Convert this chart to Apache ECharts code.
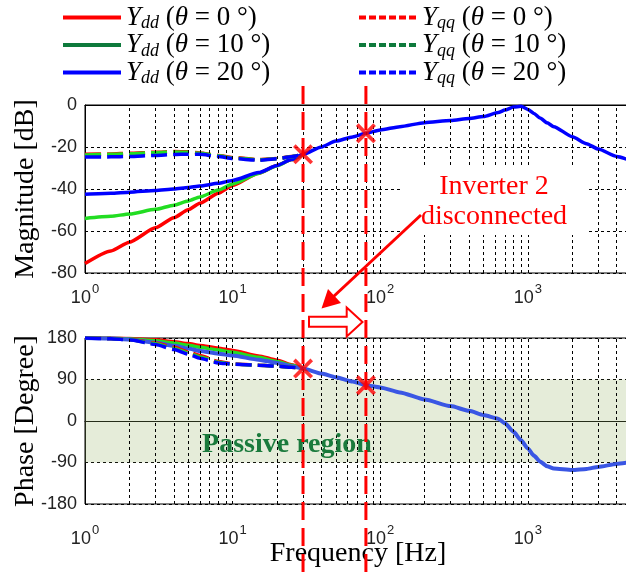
<!DOCTYPE html>
<html>
<head>
<meta charset="utf-8">
<script src="https://cdn.jsdelivr.net/npm/echarts@6/dist/echarts.min.js"></script>
<style>
  html, body { margin: 0; padding: 0; background: #fff; }
  #chart { width: 626px; height: 573px; }
</style>
</head>
<body>
<div id="chart"></div>
<script>
// ---- data -------------------------------------------------------------
// low-frequency sweep where the six admittances differ (Hz)
const lowFreq = [1, 1.5, 2, 3, 4, 5, 6, 8, 10, 15, 20, 25, 30];

// magnitude [dB]
const magYdd0  = [-75.5, -69.5, -65.3, -58.5, -53.7, -49.9, -46.8, -42.0, -38.3, -32.5, -28.8, -26.0, -23.5];
const magYdd10 = [-54.0, -53.0, -51.9, -49.7, -47.7, -45.7, -43.8, -40.5, -37.6, -32.6, -28.9, -26.0, -23.5];
const magYdd20 = [-42.5, -42.0, -41.5, -40.7, -40.0, -39.3, -38.6, -37.3, -35.9, -32.2, -28.8, -26.0, -23.5];
const magYqq0  = [-23.5, -23.3, -23.0, -22.5, -22.2, -22.3, -22.8, -24.0, -25.0, -26.0, -25.5, -24.5, -23.5];
const magYqq10 = [-23.8, -23.5, -23.2, -22.7, -22.4, -22.5, -23.0, -24.2, -25.2, -26.1, -25.6, -24.6, -23.5];
const magYqq20 = [-24.8, -24.7, -24.5, -24.0, -23.6, -23.4, -23.5, -24.5, -25.5, -26.3, -25.6, -24.6, -23.5];

// phase [degree]
const phYdd0  = [180, 180.0, 179.0, 176.0, 172.0, 168.0, 164.0, 158.0, 153.0, 141.0, 132.0, 122.0, 113.7];
const phYdd10 = [180, 179.5, 178.0, 174.0, 169.0, 164.5, 160.0, 154.0, 149.0, 138.0, 129.0, 121.0, 113.7];
const phYdd20 = [180, 179.0, 177.0, 170.0, 163.0, 157.0, 152.0, 146.0, 142.0, 133.0, 126.0, 119.0, 113.7];
const phYqq0  = [180, 179.0, 177.0, 169.0, 160.0, 150.0, 142.0, 129.0, 124.0, 121.0, 119.0, 116.5, 113.7];
const phYqq10 = [180, 179.0, 176.5, 167.5, 157.5, 147.5, 139.0, 127.5, 123.5, 121.0, 119.0, 116.5, 113.7];
const phYqq20 = [180, 178.5, 176.0, 166.0, 155.0, 145.0, 136.0, 126.0, 123.0, 121.0, 119.0, 116.5, 113.7];

// common high-frequency response (all curves coincide above 30 Hz)
const highFreq  = [40, 50, 65, 80, 100, 136, 200, 300, 400, 500, 630, 700, 800, 900, 1000, 1100, 1210, 1350, 1500, 2000, 2500, 3000, 4000, 5000];
const highMag   = [-20.0, -17.2, -15.2, -13.5, -11.9, -10.3, -8.4, -7.4, -6.4, -5.5, -3.6, -2.4, -1.0, -0.6, -2.1, -4.0, -6.2, -8.5, -10.3, -15.1, -18.4, -21.0, -24.5, -26.6];
const highPhase = [103.0, 95.0, 85.5, 77.7, 72.7, 62.0, 46.7, 32.3, 22.0, 12.8, 5.0, -5.0, -23.5, -42.0, -59.5, -75.0, -88.0, -98.0, -103.0, -106.5, -104.0, -99.5, -93.0, -89.0];

// switching instants marked on the curves
const markFreq  = [30, 80];
const markMag   = [-23.5, -13.5];
const markPhase = [113.7, 77.7];

// axis ticks
const magTicks   = { min: -80, max: 0, step: 20 };
const phaseTicks = { min: -180, max: 180, step: 90 };
const freqRange  = { min: 1, max: 5000 };

// ---- helpers ----------------------------------------------------------
const pairs = (xs, ys) => xs.map((x, i) => [x, ys[i]]);

// dashed vertical grid at 1..9 x 10^n
const gridFreqs = [];
for (let d = 1; d <= 1000; d *= 10) {
  for (let k = 1; k <= 9; k++) {
    const f = k * d;
    if (f > freqRange.min && f < freqRange.max) gridFreqs.push(f);
  }
}

const RED = '#ff0000', GREEN = '#22dd22', BLUE = '#0000ff';
const curves = [
  { name: 'Y_dd (θ = 0°)',  color: RED,   dash: false, mag: magYdd0,  ph: phYdd0 },
  { name: 'Y_dd (θ = 10°)', color: GREEN, dash: false, mag: magYdd10, ph: phYdd10 },
  { name: 'Y_dd (θ = 20°)', color: BLUE,  dash: false, mag: magYdd20, ph: phYdd20, full: true },
  { name: 'Y_qq (θ = 0°)',  color: RED,   dash: true,  mag: magYqq0,  ph: phYqq0 },
  { name: 'Y_qq (θ = 10°)', color: GREEN, dash: true,  mag: magYqq10, ph: phYqq10 },
  { name: 'Y_qq (θ = 20°)', color: BLUE,  dash: true,  mag: magYqq20, ph: phYqq20 }
];

const SERIF = '"Liberation Serif", "Times New Roman", serif';
const SANS  = '"Liberation Sans", Arial, sans-serif';

const crossPath = 'path://M0,2.6 L2.6,0 L10,7.4 L17.4,0 L20,2.6 L12.6,10 L20,17.4 L17.4,20 L10,12.6 L2.6,20 L0,17.4 L7.4,10 Z';

const gridLineStyle = { type: [3, 3], color: '#000', width: 1 };

function freqAxis(gridIndex, margin) {
  return {
    type: 'log', logBase: 10, gridIndex,
    min: freqRange.min, max: freqRange.max,
    axisLine: { show: true, lineStyle: { color: '#000', width: 1 } },
    axisTick: { show: false },
    splitLine: { show: false },
    axisLabel: {
      margin, showMaxLabel: false,
      formatter: v => '{b|10}{s|' + Math.round(Math.log10(v)) + '}',
      rich: {
        b: { fontFamily: SANS, fontSize: 18, color: '#222' },
        s: { fontFamily: SANS, fontSize: 13, color: '#222', padding: [0, 0, 17, 1] }
      }
    }
  };
}

function valueAxis(gridIndex, ticks, name) {
  return {
    type: 'value', gridIndex,
    min: ticks.min, max: ticks.max, interval: ticks.step,
    axisLine: { show: true, lineStyle: { color: '#000', width: 1 } },
    axisTick: { show: false },
    splitLine: { show: true, lineStyle: gridLineStyle },
    axisLabel: { fontFamily: SANS, fontSize: 18, color: '#222', margin: 8 },
    name, nameLocation: 'middle', nameRotate: 90, nameGap: 45, nameMoveOverlap: false,
    nameTextStyle: { fontFamily: SERIF, fontSize: 28, color: '#000' }
  };
}

const series = [];

// background helpers: vertical grid and the passive band
[0, 1].forEach(g => {
  series.push({
    type: 'line', xAxisIndex: g, yAxisIndex: g, data: [], z: 1, silent: true,
    markLine: {
      silent: true, symbol: ['none', 'none'], label: { show: false },
      lineStyle: gridLineStyle,
      data: gridFreqs.map(f => ({ xAxis: f }))
    },
    markArea: g === 1 ? {
      silent: true,
      itemStyle: { color: 'rgba(151,179,103,0.25)' },
      data: [[{ yAxis: -90 }, { yAxis: 90 }]]
    } : undefined
  });
});

curves.forEach(c => {
  const fx = c.full ? lowFreq.concat(highFreq) : lowFreq;
  const my = c.full ? c.mag.concat(highMag) : c.mag;
  const py = c.full ? c.ph.concat(highPhase) : c.ph;
  const style = { color: c.color, width: 3.5, type: c.dash ? [16, 6] : 'solid' };
  series.push({
    name: c.name, type: 'line', xAxisIndex: 0, yAxisIndex: 0,
    data: pairs(fx, my), symbol: 'none', smooth: 0.2, smoothMonotone: 'x',
    lineStyle: style, itemStyle: { color: c.color }, z: 3
  });
  series.push({
    name: c.name, type: 'line', xAxisIndex: 1, yAxisIndex: 1,
    data: pairs(fx, py), symbol: 'none', smooth: 0.2, smoothMonotone: 'x',
    lineStyle: Object.assign({}, style, c.full ? { color: '#3a56e4', width: 4 } : {}),
    itemStyle: { color: c.color }, z: 3
  });
});

// switching marks
series.push({
  type: 'scatter', xAxisIndex: 0, yAxisIndex: 0, data: pairs(markFreq, markMag),
  symbol: crossPath, symbolSize: 20, itemStyle: { color: RED }, z: 6, silent: true
});
series.push({
  type: 'scatter', xAxisIndex: 1, yAxisIndex: 1, data: pairs(markFreq, markPhase),
  symbol: crossPath, symbolSize: 20, itemStyle: { color: RED }, z: 6, silent: true
});

// legend label: italic Y with subscript, θ in italic
function legendText(name) {
  const m = name.match(/^Y_(\w+) \(θ = (\d+)°\)$/);
  return '{it|Y}{sub|' + m[1] + '}{rm| (}{it|θ}{rm| = ' + m[2] + ' °)}';
}
const legendRich = {
  it:  { fontFamily: SERIF, fontSize: 27, fontStyle: 'italic', color: '#000', lineHeight: 27 },
  rm:  { fontFamily: SERIF, fontSize: 27, color: '#000', lineHeight: 27 },
  sub: { fontFamily: SERIF, fontSize: 18, fontStyle: 'italic', color: '#000', verticalAlign: 'bottom', lineHeight: 30 }
};
const legendGreen = '#0e7a3c';
function legendItems(names, dashed) {
  return names.map(n => {
    const c = curves.find(cc => cc.name === n);
    const col = c.color === GREEN ? legendGreen : c.color;
    return {
      name: n,
      lineStyle: { color: col, width: 4, type: dashed ? [7, 3] : 'solid' },
      itemStyle: { color: col, opacity: 0 }
    };
  });
}
function legendBlock(left, names, dashed) {
  return {
    orient: 'vertical', left, top: -1, itemWidth: 58, itemHeight: 1, itemGap: -1,
    data: legendItems(names, dashed),
    formatter: legendText, textStyle: { rich: legendRich }, selectedMode: false
  };
}

const option = {
  animation: false,
  backgroundColor: '#fff',
  grid: [
    { left: 85, top: 105, right: -5, height: 168, show: true, borderColor: '#000', borderWidth: 1, outerBoundsMode: 'none' },
    { left: 85, top: 338, right: -5, height: 166, show: true, borderColor: '#000', borderWidth: 1, outerBoundsMode: 'none' }
  ],
  xAxis: [
    freqAxis(0, 10),
    Object.assign(freqAxis(1, 20), {
      name: 'Frequency [Hz]', nameLocation: 'middle', nameGap: 36, nameMoveOverlap: false,
      nameTextStyle: { fontFamily: SERIF, fontSize: 28, color: '#000' }
    })
  ],
  yAxis: [
    valueAxis(0, magTicks, 'Magnitude [dB]'),
    valueAxis(1, phaseTicks, 'Phase [Degree]')
  ],
  legend: [
    legendBlock(56, curves.slice(0, 3).map(c => c.name), false),
    legendBlock(352, curves.slice(3).map(c => c.name), true)
  ],
  series
};

const chart = echarts.init(document.getElementById('chart'));
chart.setOption(option);

// annotations: switching-instant guides, the event note and the passive label
const guideX = markFreq.map(f => chart.convertToPixel({ xAxisIndex: 0 }, f));
const graphics = guideX.map(x => ({
  type: 'line', z: 20, silent: true,
  shape: { x1: x, y1: 86, x2: x, y2: 573 },
  style: { stroke: RED, lineWidth: 3, lineDash: [18, 8] }
}));
graphics.push(
  { type: 'rect', z: 10, silent: true, shape: { x: 400, y: 168, width: 188, height: 67 }, style: { fill: '#fff' } },
  { type: 'text', z: 11, silent: true, x: 494, y: 187,
    style: { text: 'Inverter 2', fill: RED, font: '28px ' + SERIF, align: 'center', verticalAlign: 'middle' } },
  { type: 'text', z: 11, silent: true, x: 494, y: 217,
    style: { text: 'disconnected', fill: RED, font: '28px ' + SERIF, align: 'center', verticalAlign: 'middle' } },
  { type: 'line', z: 21, silent: true, shape: { x1: 421, y1: 215, x2: 333, y2: 297 },
    style: { stroke: RED, lineWidth: 3 } },
  { type: 'polygon', z: 21, silent: true,
    shape: { points: [[321.5, 308.5], [328, 289], [341, 303]] }, style: { fill: RED } },
  { type: 'polygon', z: 21, silent: true,
    shape: { points: [[309, 316.7], [346.7, 316.7], [346.7, 307.5], [362.5, 322], [346.7, 336.5], [346.7, 326.7], [309, 326.7]] },
    style: { fill: '#fff', stroke: RED, lineWidth: 2 } },
  { type: 'text', z: 11, silent: true, x: 287, y: 445,
    style: { text: 'Passive region', fill: '#1a7a3c', font: 'bold 28px ' + SERIF, align: 'center', verticalAlign: 'middle' } }
);
chart.setOption({ graphic: graphics });
</script>
</body>
</html>
